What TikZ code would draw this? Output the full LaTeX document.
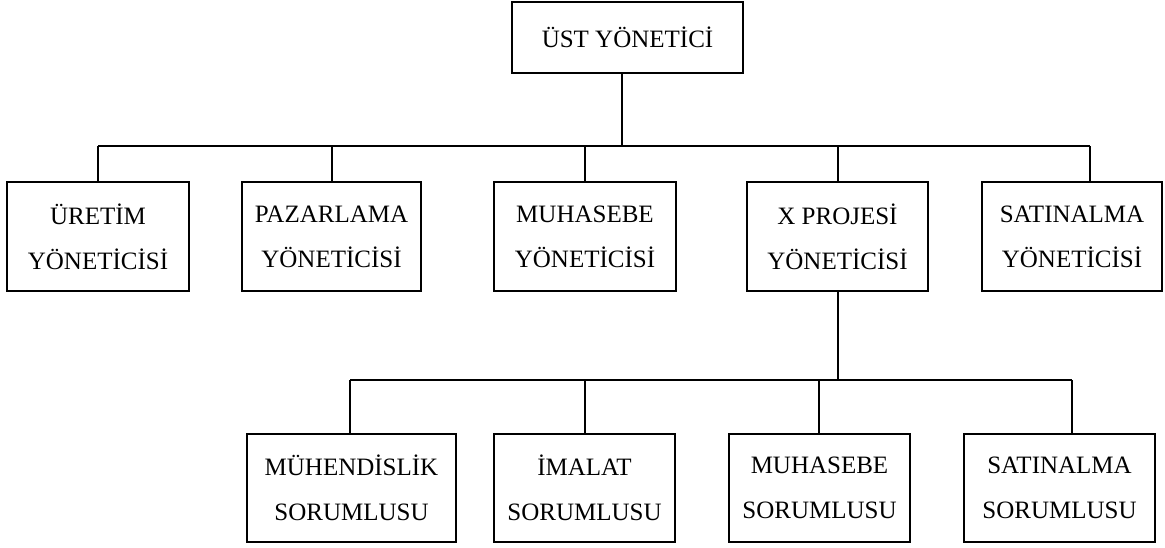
\documentclass[tikz,border=0pt]{standalone}
\usepackage{fontspec}
\setmainfont{Liberation Serif}
\begin{document}
\begin{tikzpicture}[x=1pt,y=-1pt,
  box/.style={draw,line width=2.6pt,inner sep=0pt,align=center,minimum height=109pt,
    font=\fontsize{25}{45}\selectfont},
  conn/.style={line width=2.6pt}]
\useasboundingbox (0,0) rectangle (1165,547);
% top
\node[box,minimum width=231pt,minimum height=71pt] (top) at (627.5,37.5) {ÜST YÖNETİCİ};
% middle row
\node[box,minimum width=182pt] (ure) at (98,236.5) {ÜRETİM\\YÖNETİCİSİ};
\node[box,minimum width=179pt] (paz) at (331.5,236.5) {PAZARLAMA\\YÖNETİCİSİ};
\node[box,minimum width=182pt] (muh) at (585,236.5) {MUHASEBE\\YÖNETİCİSİ};
\node[box,minimum width=181pt] (xpr) at (837.5,236.5) {X PROJESİ\\YÖNETİCİSİ};
\node[box,minimum width=180pt] (sat) at (1072,236.5) {SATINALMA\\YÖNETİCİSİ};
% bottom row
\node[box,minimum width=209pt,minimum height=108pt] (muh2) at (351.5,488) {MÜHENDİSLİK\\SORUMLUSU};
\node[box,minimum width=181pt,minimum height=108pt] (ima) at (584.5,488) {İMALAT\\SORUMLUSU};
\node[box,minimum width=181pt,minimum height=108pt] (muh3) at (819.5,488) {MUHASEBE\\SORUMLUSU};
\node[box,minimum width=191pt,minimum height=108pt] (sat2) at (1059.5,488) {SATINALMA\\SORUMLUSU};
% upper bus
\coordinate (b0) at (622,146);
\coordinate (b1) at (98,146);
\coordinate (b2) at (332,146);
\coordinate (b3) at (585,146);
\coordinate (b4) at (838,146);
\coordinate (b5) at (1090,146);
\draw[conn] (top.south -| b0) -- (b0);
\draw[conn] (b1) -- (b5);
\draw[conn] (b1) -- (b1 |- ure.north);
\draw[conn] (b2) -- (b2 |- paz.north);
\draw[conn] (b3) -- (b3 |- muh.north);
\draw[conn] (b4) -- (b4 |- xpr.north);
\draw[line width=1.8pt] (b5) -- (b5 |- sat.north);
% lower bus
\coordinate (d0) at (838,380);
\coordinate (d1) at (350,380);
\coordinate (d2) at (585,380);
\coordinate (d3) at (819,380);
\coordinate (d4) at (1072,380);
\draw[conn] (xpr.south -| d0) -- (d0);
\draw[conn] (d1) -- (d4);
\draw[conn] (d1) -- (d1 |- muh2.north);
\draw[conn] (d2) -- (d2 |- ima.north);
\draw[conn] (d3) -- (d3 |- muh3.north);
\draw[conn] (d4) -- (d4 |- sat2.north);
\end{tikzpicture}
\end{document}
